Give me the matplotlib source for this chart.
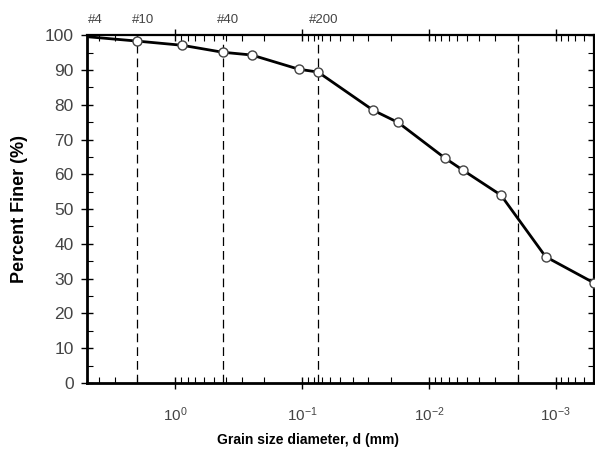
import matplotlib
matplotlib.use("Agg")
import matplotlib.pyplot as plt
from matplotlib.ticker import LogLocator, MultipleLocator

plt.rcParams["font.family"] = ["Liberation Sans", "DejaVu Sans"]

# grain size (mm) and percent finer
grain_size = [4.75, 2.0, 0.885, 0.425, 0.25, 0.106, 0.075,
              0.0275, 0.0175, 0.0075, 0.0054, 0.0027, 0.0012, 0.0005]
percent_finer = [99.5, 98.3, 97.1, 95.1, 94.3, 90.2, 89.4,
                 78.4, 74.9, 64.7, 61.2, 54.0, 36.3, 28.8]

# sieve openings (mm) marked with dashed lines
sieve_names = ["#4", "#10", "#40", "#200"]
sieve_sizes = [4.75, 2.0, 0.425, 0.075]
clay_limit = 0.002

fig = plt.figure(figsize=(5.95, 4.57), dpi=100)
ax = fig.add_axes([0.146, 0.162, 0.852, 0.761])

for d in sieve_sizes[1:] + [clay_limit]:
    ax.axvline(d, color="black", lw=0.9, ls=(0, (7, 4)), zorder=1)

ax.plot(grain_size, percent_finer, color="black", lw=2.0,
        marker="o", ms=6.5, mfc="white", mec="#444444", mew=1.0, zorder=3,
        markevery=list(range(1, len(grain_size))), clip_on=False)

ax.set_xscale("log")
ax.set_xlim(5, 0.0005)
ax.set_ylim(0, 100)

ax.yaxis.set_major_locator(MultipleLocator(10))
ax.yaxis.set_minor_locator(MultipleLocator(5))
ax.xaxis.set_major_locator(LogLocator(base=10, numticks=10))
ax.xaxis.set_minor_locator(LogLocator(base=10, subs=range(2, 10), numticks=10))

ax.tick_params(axis="both", which="major", direction="inout", length=9,
               width=1.0, labelcolor="#444444")
ax.tick_params(axis="both", which="minor", direction="in", length=4, width=0.8)
ax.tick_params(top=True, right=True, which="both")
ax.tick_params(axis="y", which="major", labelsize=12.5, pad=5)
ax.tick_params(axis="x", which="major", labelsize=11, pad=12)

for side in ["left", "bottom"]:
    ax.spines[side].set_linewidth(2.0)
for side in ["top", "right"]:
    ax.spines[side].set_linewidth(1.6)

for name, d in zip(sieve_names, sieve_sizes):
    ax.text(d * 0.9, 102.5, name, ha="center", va="bottom", fontsize=9.5,
            color="#444444")

ax.set_xlabel("Grain size diameter, d (mm)", fontsize=10, fontweight="bold",
              labelpad=6)
ax.xaxis.label.set_x(0.436)
ax.set_ylabel("Percent Finer (%)", fontsize=13, fontweight="bold",
              labelpad=12)

fig.savefig("out.png", dpi=100)
